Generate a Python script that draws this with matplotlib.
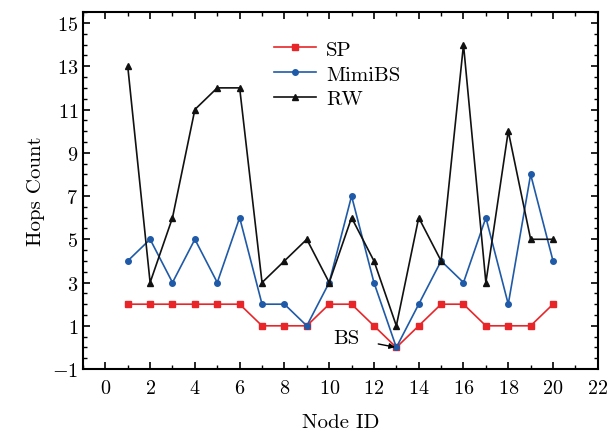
import matplotlib
matplotlib.use("Agg")
import matplotlib.pyplot as plt
from matplotlib.ticker import MultipleLocator

plt.rcParams['font.family'] = 'serif'
plt.rcParams['font.serif'] = ['cmr10']
plt.rcParams['mathtext.fontset'] = 'cm'
plt.rcParams['axes.formatter.use_mathtext'] = True

# node ids and hop counts per method
nodes = list(range(1, 21))
sp = [2, 2, 2, 2, 2, 2, 1, 1, 1, 2, 2, 1, 0, 1, 2, 2, 1, 1, 1, 2]
mimibs = [4, 5, 3, 5, 3, 6, 2, 2, 1, 3, 7, 3, 0, 2, 4, 3, 6, 2, 8, 4]
rw = [13, 3, 6, 11, 12, 12, 3, 4, 5, 3, 6, 4, 1, 6, 4, 14, 3, 10, 5, 5]

fig = plt.figure(figsize=(6.1, 4.39), dpi=100)
ax = fig.add_axes([0.136, 0.157, 0.844, 0.813])

ax.plot(nodes, sp, color='#e8262a', marker='s', markersize=4, lw=1.2, label='SP')
ax.plot(nodes, mimibs, color='#1f5aa8', marker='o', markersize=4, lw=1.2, label='MimiBS')
ax.plot(nodes, rw, color='#111111', marker='^', markersize=4.5, lw=1.2, label='RW')

ax.annotate('BS', xy=(13, 0), xytext=(10.75, 0.45), fontsize=15,
            ha='center', va='center',
            arrowprops=dict(arrowstyle='-|>', color='black', lw=1, shrinkA=12, shrinkB=1,
                            mutation_scale=8))

ax.set_xlim(-1, 22)
ax.set_ylim(-1, 15.5)
ax.xaxis.set_major_locator(MultipleLocator(2))
ax.xaxis.set_minor_locator(MultipleLocator(1))
ax.set_yticks(range(-1, 16, 2))
ax.yaxis.set_minor_locator(MultipleLocator(0.5))
ax.tick_params(which='both', direction='in', top=True, right=True, labelsize=14.5)
ax.tick_params(which='major', length=5, width=1.2)
ax.tick_params(axis='x', which='major', pad=7)
ax.tick_params(which='minor', length=3, width=1)
for s in ax.spines.values():
    s.set_linewidth(1.5)

ax.set_xlabel('Node ID', fontsize=15, labelpad=12)
ax.set_ylabel('Hops Count', fontsize=15, labelpad=5)

ax.legend(loc='upper left', bbox_to_anchor=(0.355, 0.945), frameon=False, fontsize=15,
          handlelength=2, handletextpad=0.5, labelspacing=0.3, borderaxespad=0)

fig.savefig('out.png', dpi=100)
